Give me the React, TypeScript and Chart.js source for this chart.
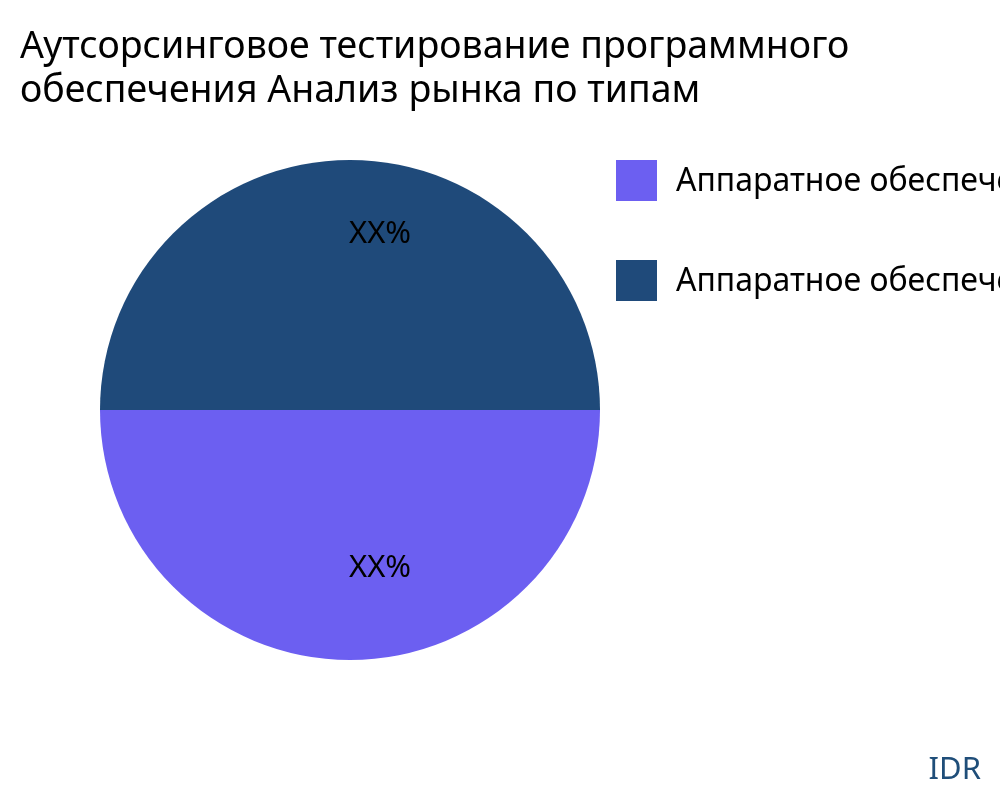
import { useEffect, useRef } from "react";
import { Chart, registerables } from "chart.js";
Chart.register(...registerables);

const titleLines = ["Аутсорсинговое тестирование программного", "обеспечения Анализ рынка по типам"];
const categories = ["Аппаратное обеспечение", "Аппаратное обеспечение"];
const values = [50, 50];
const sliceLabels = ["XX%", "XX%"];
const colors = ["#6c5ff1", "#1f4a7a"];
const brand = "IDR";

const FONT = '"Noto Sans", sans-serif';

const overlay = {
  id: "overlay",
  afterDraw(chart: any) {
    const ctx = chart.ctx;
    ctx.save();
    ctx.textAlign = "left";
    ctx.textBaseline = "alphabetic";

    // title
    ctx.fillStyle = "#000";
    ctx.font = `37.5px ${FONT}`;
    titleLines.forEach((line, i) => ctx.fillText(line, 20, 58 + i * 43.5));

    // slice labels
    const meta = chart.getDatasetMeta(0);
    ctx.font = `31px ${FONT}`;
    meta.data.forEach((arc: any, i: number) => {
      const p = arc.getProps(["x", "y", "startAngle", "endAngle", "outerRadius"], true);
      const mid = (p.startAngle + p.endAngle) / 2;
      const d = p.outerRadius * 0.668;
      ctx.fillText(sliceLabels[i], p.x - 1 + Math.cos(mid) * d, p.y + Math.sin(mid) * d);
    });

    // legend
    categories.forEach((c, i) => {
      const top = 160 + i * 100;
      ctx.fillStyle = colors[i];
      ctx.fillRect(616, top, 41, 41);
      ctx.fillStyle = "#000";
      ctx.font = `32px ${FONT}`;
      ctx.fillText(c, 676, top + 31);
    });

    // brand
    ctx.fillStyle = "#1f4e79";
    ctx.font = `31px ${FONT}`;
    ctx.textAlign = "right";
    ctx.fillText(brand, 981, 779);

    ctx.restore();
  },
};

function PieChart() {
  const canvasRef = useRef<HTMLCanvasElement>(null);

  useEffect(() => {
    document.body.style.margin = "0";
    if (!canvasRef.current) return;
    const ctx = canvasRef.current.getContext("2d");
    if (!ctx) return;

    const chart = new Chart(ctx, {
      type: "pie",
      data: {
        labels: categories,
        datasets: [{ data: values, backgroundColor: colors, borderWidth: 0 }],
      },
      options: {
        responsive: false,
        animation: false,
        rotation: 90,
        layout: { padding: { left: 100, right: 400, top: 160, bottom: 140 } },
        plugins: {
          legend: { display: false },
          title: { display: false },
          tooltip: { enabled: false },
        },
      },
      plugins: [overlay],
    });

    return () => chart.destroy();
  }, []);

  return <canvas ref={canvasRef} width={1000} height={800} style={{ display: "block" }} />;
}

export default function App() {
  return (
    <div style={{ width: 1000, height: 800, background: "#fff" }}>
      <PieChart />
    </div>
  );
}
